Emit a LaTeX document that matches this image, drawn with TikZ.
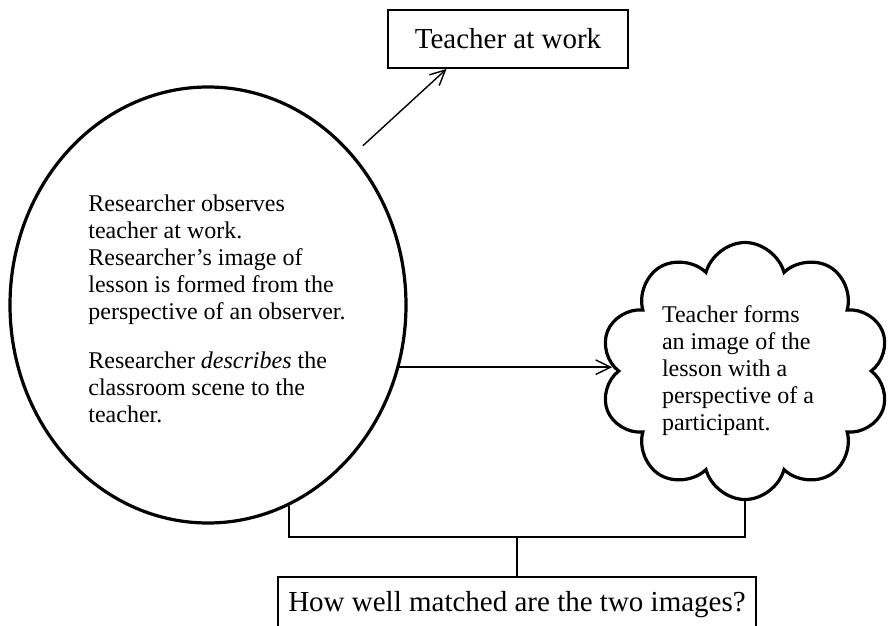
\documentclass[tikz,border=0pt]{standalone}
\usepackage{fontspec}
\setmainfont{Liberation Serif}
\usetikzlibrary{shapes.geometric,shapes.symbols,arrows.meta}

\newcommand{\bodyfont}{\fontsize{12}{13.5}\selectfont}
\newcommand{\boxfont}{\fontsize{14.5}{17}\selectfont}

\begin{document}
\begin{tikzpicture}[x=0.5pt,y=-0.5pt]

    \tikzstyle{frame}=[rectangle, draw, line width=1pt, font=\boxfont]
    \tikzstyle{oval}=[ellipse, draw, line width=1.6pt, minimum width=198pt, minimum height=218pt]
    \tikzstyle{puff}=[cloud, draw, cloud puffs=10, cloud ignores aspect, line width=1.6pt,
                      minimum width=142.5pt, minimum height=128.5pt,
                      text width=83pt, align=flush left, font=\bodyfont]
    \tikzstyle{arr}=[-{Straight Barb[length=7.5pt,width=7.3pt]}, line width=0.7pt]
    \tikzstyle{link}=[line width=1pt]

    \useasboundingbox (0,0) rectangle (889,626);

    \node[frame, minimum width=120pt, minimum height=29pt] (work) at (508,39) {Teacher at work};
    \node[oval] (observer) at (208,305) {};
    \node[anchor=north west, inner sep=0pt, align=left, font=\bodyfont] (obsnote) at (88,194)
        {Researcher observes\\ teacher at work.\\ Researcher’s image of\\ lesson is formed from the\\ perspective of an observer.\\[11pt]
         Researcher \textit{describes} the\\ classroom scene to the\\ teacher.};
    \node[puff] (image) at (745,371) {Teacher forms\\ an image of the\\ lesson with a\\ perspective of a\\ participant.};
    \node[frame, anchor=north, minimum width=239pt, minimum height=28pt] (question) at (517,576)
        {How well matched are the two images?};

    % arrows out of the researcher's view
    \draw[arr, shorten <=6.5pt] (observer.46) -- (work.206);
    \draw[arr, shorten >=2pt] (observer.-18) -- (observer.-18 -| image.west);

    % both images meet at the question
    \path (question.north) ++(0,-39) coordinate (fork);
    \draw[link] (observer.-68) |- (fork) -| (image.south);
    \draw[link] (fork) -- (question.north);

\end{tikzpicture}
\end{document}
